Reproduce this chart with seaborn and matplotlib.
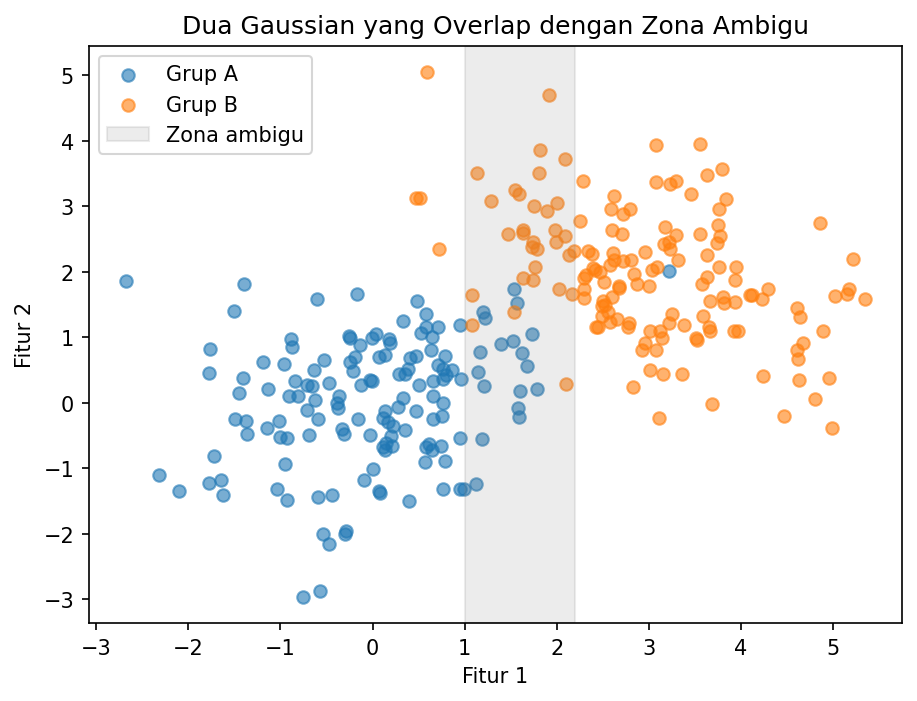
import matplotlib
matplotlib.use("Agg")
import matplotlib.pyplot as plt
import seaborn as sns
import numpy as np

# Grup A (blue) points
grup_a_x = [
    -2.68, -1.39, -1.50, -1.76, -1.78, -1.19, -0.96, -1.41, -1.45, -1.13,
    -1.49, -1.37, -1.36, -1.15, -1.02, -1.01, -0.93, -1.72, -0.95, -2.32,
    -2.10, -1.78, -1.65, -1.62, -1.04, -0.93,
    -0.605, -0.17, 0.48, 0.58, 0.33, 0.58, 0.53, 0.64, 0.71, 0.95,
    -0.89, -0.87, -0.26, -0.25, -0.14, -0.01, 0.04, 0.18, 0.19, 0.07,
    0.13, -0.19, -0.24, -0.21, 0.63, 0.41, 0.47, 0.71, 0.79, -0.53,
    -0.64, 0.29, 0.35, 0.38, 0.76, 0.80, 0.86, 0.96, 0.66, 0.76,
    0.50, -0.84, -0.71, -0.66, -0.47, -0.13, -0.03, -0.01, -0.91, -0.81,
    -0.62, -0.71, -0.59, -0.39, -0.36, -0.38, 0.33, 0.28, 0.66, 0.77,
    0.75, 0.66, 0.47, 0.14, 0.11, 0.17, 0.22, -0.16, 0.35, 0.20,
    -0.33, -0.31, -0.03, -0.69, 0.11, 0.15, 0.21, 0.13, 0.95, 0.58,
    0.64, 0.74, 0.61, 0.57, 0.79, 0.01, -0.09, -0.59, -0.44, 0.08,
    0.07, 0.40, 0.77, 0.95, 0.99, 1.12, -0.54, -0.47, -0.29, -0.30,
    -0.76, -0.57,
    1.20, 1.22, 1.53, 1.57, 1.73, 1.39, 1.52, 1.17, 1.62, 1.68,
    1.15, 1.21, 1.60, 1.79, 1.58, 1.59, 1.19, 3.22,
]
grup_a_y = [
    1.86, 1.81, 1.40, 0.82, 0.45, 0.62, 0.60, 0.38, 0.15, 0.21,
    -0.25, -0.27, -0.47, -0.39, -0.27, -0.52, -0.54, -0.81, -0.93, -1.10,
    -1.34, -1.22, -1.18, -1.41, -1.31, -1.49,
    1.58, 1.66, 1.55, 1.35, 1.25, 1.16, 1.06, 1.00, 1.16, 1.19,
    0.97, 0.85, 1.02, 0.99, 0.88, 0.99, 1.05, 0.98, 0.91, 0.70,
    0.73, 0.70, 0.62, 0.48, 0.81, 0.69, 0.71, 0.58, 0.72, 0.66,
    0.50, 0.44, 0.44, 0.51, 0.51, 0.43, 0.50, 0.37, 0.33, 0.36,
    0.27, 0.33, 0.27, 0.25, 0.30, 0.27, 0.35, 0.33, 0.10, 0.10,
    0.05, -0.11, -0.25, 0.00, 0.10, -0.08, 0.07, -0.07, 0.11, 0.00,
    -0.20, -0.25, -0.12, -0.12, -0.23, -0.29, -0.36, -0.25, -0.41, -0.50,
    -0.40, -0.48, -0.49, -0.49, -0.67, -0.62, -0.66, -0.72, -0.54, -0.67,
    -0.72, -0.66, -0.63, -0.90, -0.89, -1.01, -1.18, -1.44, -1.40, -1.37,
    -1.35, -1.50, -1.32, -1.32, -1.32, -1.24, -2.00, -2.16, -1.95, -2.00,
    -2.96, -2.87,
    1.39, 1.29, 1.74, 1.53, 1.05, 0.90, 0.95, 0.78, 0.76, 0.56,
    0.47, 0.25, 0.18, 0.21, -0.08, -0.21, -0.55, 2.01,
]

# Grup B (orange) points
grup_b_x = [
    0.59, 1.91, 1.82, 2.09, 1.13, 1.81, 2.28, 0.47, 0.52, 1.55,
    1.59, 1.29, 1.75, 2.00, 1.89, 2.25, 0.72, 1.47, 1.63, 1.63,
    1.98, 2.09, 1.74, 1.73, 1.79, 1.99, 2.13, 2.19, 2.34, 2.38,
    1.76, 1.63, 1.74, 2.32, 2.41, 1.08, 1.08, 1.53, 2.02, 2.17,
    2.29, 2.29, 2.10, 2.43,
    3.08, 3.55, 3.08, 3.23, 3.29, 3.63, 3.79, 3.46, 2.62, 3.84,
    3.76, 2.59, 2.72, 2.79, 2.60, 2.71, 3.17, 3.29, 3.16, 3.22,
    3.23, 3.55, 3.75, 3.77, 3.74, 2.61, 2.62, 2.72, 2.80, 2.96,
    3.32, 3.63, 3.76, 3.95, 3.93, 3.63, 3.58, 2.58, 2.39, 2.47,
    2.30, 2.84, 3.03, 3.09, 2.51, 2.68, 2.87, 3.00,
    2.68, 2.60, 2.50, 2.52, 2.49, 2.56, 2.49, 2.65, 2.58, 2.45,
    2.78, 2.77, 3.25, 3.22, 3.38, 3.01, 3.12, 3.14, 2.96, 2.93,
    3.08, 3.51, 3.52, 3.59, 3.65, 3.66, 3.66, 3.80, 3.82, 3.93,
    4.10, 3.92, 3.97, 3.01, 3.15, 3.36, 2.83, 3.69, 3.11,
    4.86, 5.22, 4.12, 4.23, 4.29, 5.02, 5.15, 5.17, 5.35, 4.61,
    4.64, 4.89, 4.67, 4.61, 4.62, 4.24, 4.63, 4.96, 4.80, 4.47,
    4.99,
]
grup_b_y = [
    5.05, 4.70, 3.85, 3.72, 3.51, 3.50, 3.39, 3.13, 3.13, 3.25,
    3.19, 3.08, 3.01, 3.05, 2.93, 2.78, 2.34, 2.58, 2.64, 2.59,
    2.64, 2.55, 2.46, 2.38, 2.34, 2.45, 2.26, 2.32, 2.31, 2.27,
    2.07, 1.90, 1.88, 1.95, 2.03, 1.65, 1.19, 1.39, 1.74, 1.66,
    1.60, 1.73, 0.29, 1.16,
    3.94, 3.95, 3.37, 3.34, 3.39, 3.48, 3.57, 3.19, 3.16, 3.11,
    2.96, 2.96, 2.88, 2.96, 2.64, 2.58, 2.68, 2.56, 2.43, 2.46,
    2.35, 2.58, 2.72, 2.55, 2.44, 2.29, 2.18, 2.17, 2.18, 2.30,
    2.18, 2.26, 2.07, 2.07, 1.88, 1.92, 1.82, 2.11, 2.05, 1.99,
    1.90, 1.97, 2.03, 2.07, 1.85, 1.78, 1.82, 1.79,
    1.75, 1.62, 1.55, 1.50, 1.48, 1.39, 1.33, 1.28, 1.24, 1.16,
    1.22, 1.16, 1.35, 1.22, 1.19, 1.10, 1.09, 0.99, 0.92, 0.80,
    0.81, 0.99, 0.96, 1.32, 1.16, 1.09, 1.55, 1.62, 1.52, 1.54,
    1.65, 1.10, 1.10, 0.50, 0.44, 0.44, 0.24, -0.02, -0.23,
    2.74, 2.19, 1.65, 1.59, 1.73, 1.63, 1.66, 1.74, 1.59, 1.45,
    1.31, 1.10, 0.92, 0.81, 0.67, 0.41, 0.35, 0.38, 0.06, -0.20,
    -0.38,
]

zona_awal = 1.0
zona_akhir = 2.2

labels = ["Grup A", "Grup B", "Zona ambigu"]
title = "Dua Gaussian yang Overlap dengan Zona Ambigu"

fig, ax = plt.subplots(figsize=(7, 5), dpi=150)

sns.scatterplot(x=grup_a_x, y=grup_a_y, ax=ax, color="C0", alpha=0.6,
                s=36, edgecolor="C0", linewidth=1.0, label=labels[0])
sns.scatterplot(x=grup_b_x, y=grup_b_y, ax=ax, color="C1", alpha=0.6,
                s=36, edgecolor="C1", linewidth=1.0, label=labels[1])
ax.axvspan(zona_awal, zona_akhir, color="gray", alpha=0.15, label=labels[2])

ax.set_title(title)
ax.set_xlabel("Fitur 1")
ax.set_ylabel("Fitur 2")
ax.legend(loc="upper left")

fig.savefig("out.png", dpi=150, bbox_inches="tight")
